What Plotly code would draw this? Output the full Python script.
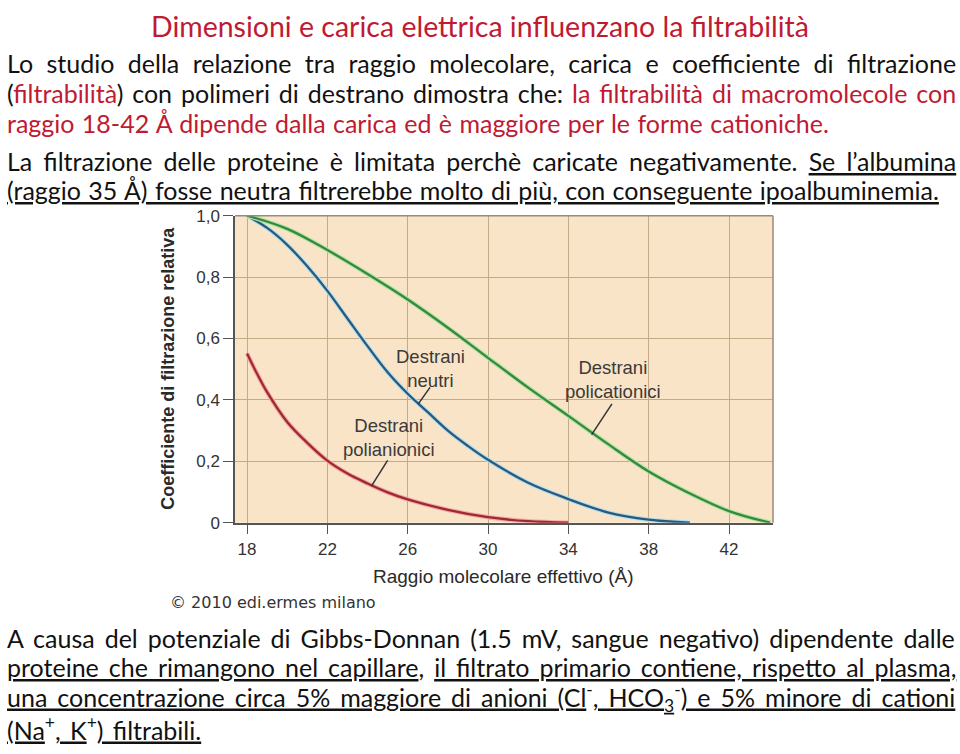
import plotly.graph_objects as go

W, H = 960, 754

# ---- data ----
raggio_anionici = [18, 18.5, 19, 20, 21, 22, 23, 24, 25, 26, 28, 30, 32, 34]
coeff_anionici = [0.551, 0.485, 0.425, 0.328, 0.26, 0.202, 0.16, 0.128, 0.099, 0.076, 0.042, 0.018, 0.005, 0.0]

raggio_neutri = [18, 19, 20, 21, 22, 23, 24, 25, 26, 27, 28, 29, 30, 32, 34, 36, 38, 40.05]
coeff_neutri = [1.0, 0.96, 0.905, 0.835, 0.755, 0.665, 0.575, 0.49, 0.42, 0.36, 0.30, 0.25, 0.205, 0.13, 0.077, 0.033, 0.01, 0.0]

raggio_cationici = [18, 20, 22, 24, 26, 28, 30, 32, 34, 36, 38, 40, 42, 44.05]
coeff_cationici = [1.0, 0.957, 0.888, 0.81, 0.727, 0.635, 0.537, 0.44, 0.348, 0.255, 0.167, 0.097, 0.038, 0.0]

x_ticks = [18, 22, 26, 30, 34, 38, 42]
y_ticks = [0, 0.2, 0.4, 0.6, 0.8, 1.0]
y_ticktext = ["0", "0,2", "0,4", "0,6", "0,8", "1,0"]

RED = "#c01a32"
TXT_FONT = "Lato"
BODY = 25


def px(x):
    return x / W


def py(y):
    return 1 - y / H


fig = go.Figure()

series = [
    (raggio_anionici, coeff_anionici, "#f2a8a8", "#9e2a2f"),
    (raggio_neutri, coeff_neutri, "#ace0f2", "#2e5878"),
    (raggio_cationici, coeff_cationici, "#aee6a4", "#3a873e"),
]
for xs, ys, halo, core in series:
    fig.add_trace(go.Scatter(x=xs, y=ys, mode="lines",
                             line=dict(color=halo, width=4.5, shape="spline", smoothing=1.0),
                             hoverinfo="skip", showlegend=False))
    fig.add_trace(go.Scatter(x=xs, y=ys, mode="lines",
                             line=dict(color=core, width=2.3, shape="spline", smoothing=1.0),
                             showlegend=False))

GRID = "#c4ab88"
fig.update_layout(
    width=W, height=H,
    margin=dict(l=0, r=0, t=0, b=0),
    paper_bgcolor="white",
    plot_bgcolor="#f9e4c8",
    xaxis=dict(domain=[px(235), px(773)], range=[17.40, 44.19],
               tickvals=x_ticks, ticktext=[str(v) for v in x_ticks],
               ticks="outside", ticklen=10, tickcolor="#555", tickwidth=1.2,
               showline=True, linecolor="#555", linewidth=1.5,
               showgrid=True, gridcolor=GRID, gridwidth=1, zeroline=False,
               tickfont=dict(family="Liberation Sans", size=17, color="#333")),
    yaxis=dict(domain=[py(527), py(212)], range=[0, 1.0],
               tickvals=y_ticks, ticktext=y_ticktext,
               ticks="outside", ticklen=10, tickcolor="#555", tickwidth=1.2,
               showline=True, linecolor="#555", linewidth=1.5,
               showgrid=True, gridcolor=GRID, gridwidth=1, zeroline=False,
               tickfont=dict(family="Liberation Sans", size=17, color="#333")),
)

# top/right border of the plot area
fig.add_shape(type="line", xref="x domain", yref="y domain", x0=0, x1=1, y0=1, y1=1,
              line=dict(color="#9a8a78", width=1.5))
fig.add_shape(type="line", xref="x domain", yref="y domain", x0=1, x1=1, y0=0, y1=1,
              line=dict(color="#9a8a78", width=1.5))

# pointer lines
ptr = [
    ((27.11, 0.441), (26.53, 0.387)),
    ((36.17, 0.387), (35.16, 0.287)),
    ((25.0, 0.203), (24.2, 0.12)),
]
for (x0, y0), (x1, y1) in ptr:
    fig.add_shape(type="line", x0=x0, y0=y0, x1=x1, y1=y1,
                  line=dict(color="#333", width=1.5))

LBL = dict(family="Liberation Sans", size=18.5, color="#3a3a3a")
for text, x, y in [
    ("Destrani<br>neutri", 430, 369),
    ("Destrani<br>policationici", 613, 380),
    ("Destrani<br>polianionici", 389, 440),
]:
    fig.add_annotation(text=text, x=px(x), y=py(y), xref="paper", yref="paper",
                       showarrow=False, font=LBL, align="center",
                       xanchor="center", yanchor="middle")

# axis titles
fig.add_annotation(text="<b>Coefficiente di filtrazione relativa</b>", x=px(168), y=py(369),
                   xref="paper", yref="paper", showarrow=False, textangle=-90,
                   font=dict(family="Liberation Sans", size=18, color="#2a2a2a"),
                   xanchor="center", yanchor="middle")
fig.add_annotation(text="Raggio molecolare effettivo (Å)", x=px(503), y=py(582),
                   xref="paper", yref="paper", showarrow=False,
                   font=dict(family="Liberation Sans", size=19, color="#2a2a2a"),
                   xanchor="center", yanchor="middle")
fig.add_annotation(text="© 2010 edi.ermes milano", x=px(168), y=py(609),
                   xref="paper", yref="paper", showarrow=False,
                   font=dict(family="DejaVu Sans", size=16, color="#333"),
                   xanchor="left", yanchor="middle")

# slide text
fig.add_annotation(text="Dimensioni e carica elettrica influenzano la filtrabilità",
                   x=px(480), y=py(17), xref="paper", yref="paper", showarrow=False,
                   font=dict(family=TXT_FONT, size=28.5, color=RED),
                   xanchor="center", yanchor="middle")


def r(t):
    return f"<span style='color:{RED}'>{t}</span>"


def ws(t, s):
    return f"<span style='word-spacing:{s}px'>{t}</span>"


lines_top = [
    (ws("Lo studio della relazione tra raggio molecolare, carica e coefficiente di filtrazione", 7.0), 55),
    (ws("(" + r("filtrabilità") + ") con polimeri di destrano dimostra che: "
        + r("la filtrabilità di macromolecole con"), 2.5), 86),
    (ws(r("raggio 18-42 Å dipende dalla carica ed è maggiore per le forme cationiche."), 1.0), 117),
    (ws("La filtrazione delle proteine è limitata perchè caricate negativamente. <u>Se l’albumina</u>", 4.7), 156),
    (ws("<u>(raggio 35 Å) fosse neutra filtrerebbe molto di più, con conseguente ipoalbuminemia.</u>", 1.0), 186),
]
lines_bottom = [
    (ws("A causa del potenziale di Gibbs-Donnan (1.5 mV, sangue negativo) dipendente dalle", 3.6), 645),
    (ws("<u>proteine che rimangono nel capillare</u>, <u>il filtrato primario contiene, rispetto al plasma,</u>", 3.6), 675),
    (ws("<u>una concentrazione circa 5% maggiore di anioni (Cl</u><sup>-</sup><u>, HCO<sub>3</sub></u>"
        "<sup>-</sup><u>) e 5% minore di cationi</u>", 3.6), 706),
    (ws("<u>(Na</u><sup>+</sup><u>, K</u><sup>+</sup><u>) filtrabili.</u>", 3.0), 738),
]
for text, y in lines_top + lines_bottom:
    fig.add_annotation(text=text, x=px(5), y=py(y), xref="paper", yref="paper",
                       showarrow=False, font=dict(family=TXT_FONT, size=BODY, color="#111"),
                       xanchor="left", yanchor="middle", align="left")

fig.write_html("out.html")
